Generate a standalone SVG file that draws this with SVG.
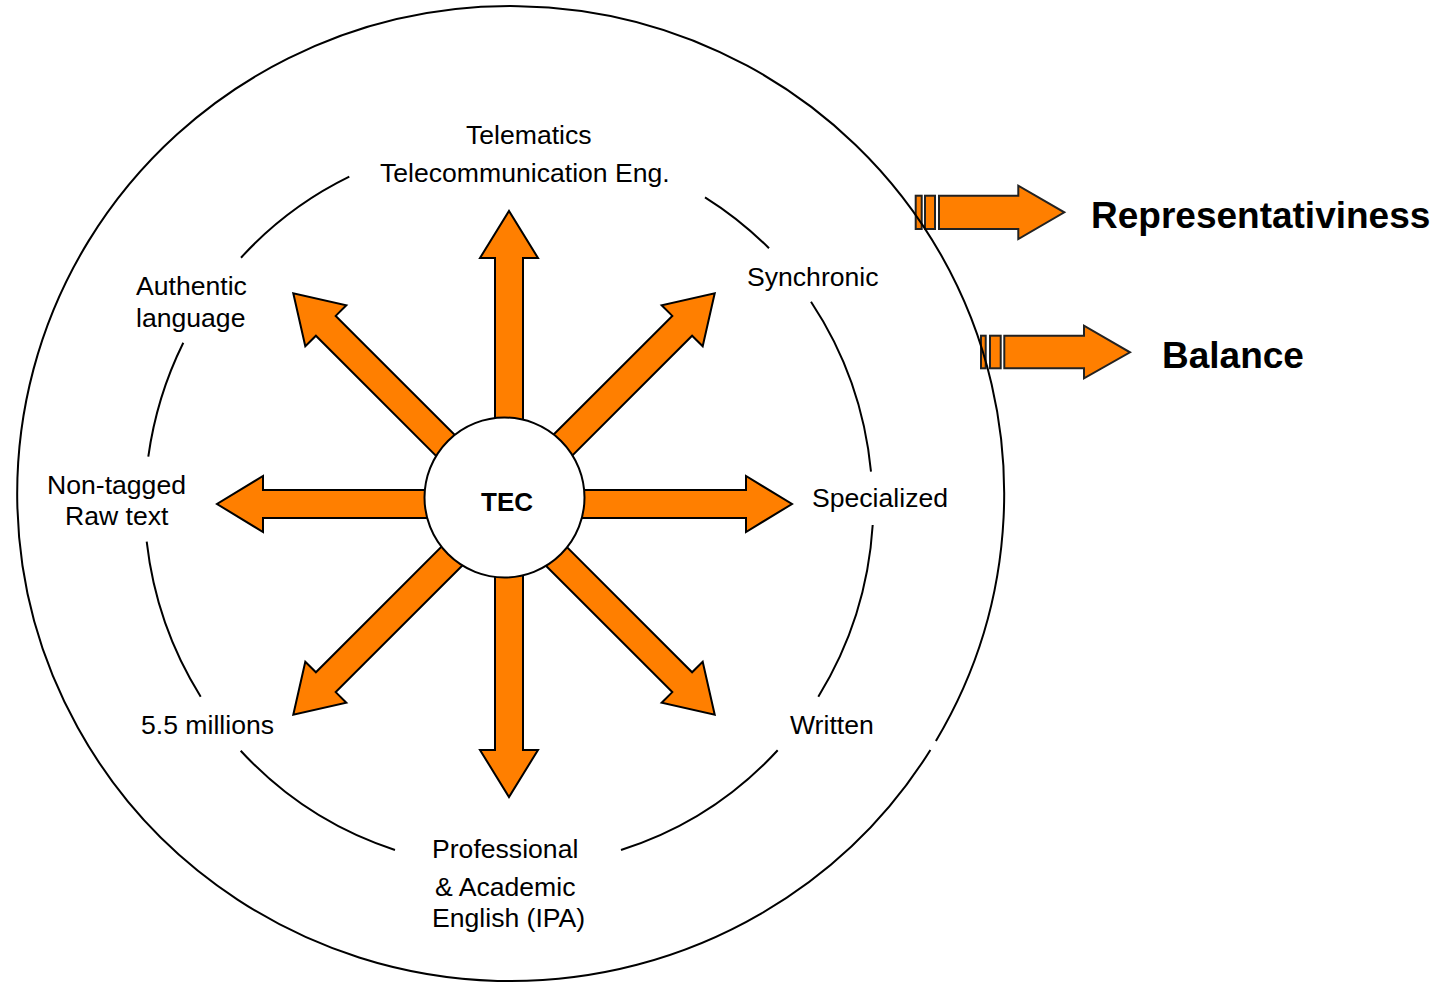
<svg xmlns="http://www.w3.org/2000/svg" width="1439" height="984" viewBox="0 0 1439 984">
<style>
.lbl{font-family:"Liberation Sans",Arial,sans-serif;font-size:26.6px;fill:#000}
.big{font-family:"Liberation Sans",Arial,sans-serif;font-size:37px;font-weight:bold;fill:#000}
.arr{fill:#FF7F00;stroke:#000;stroke-width:2;stroke-linejoin:miter}
.sarr{fill:#FF7F00;stroke:#222;stroke-width:2}
.ring{fill:none;stroke:#000;stroke-width:2}
</style>
<defs>
<polygon id="radial" points="40,-14 252,-14 252,-29 298,0 252,29 252,14 40,14"/>
</defs>
<rect width="1439" height="984" fill="#fff"/>

<g id="side-arrows">
<g id="arrow-representativiness">
<rect class="sarr" x="915.7" y="195.7" width="6" height="33.3"/>
<rect class="sarr" x="925" y="195.7" width="10" height="33.3"/>
<polygon class="sarr" points="939,195.7 1018.3,195.7 1018.3,185.7 1064.3,212.3 1018.3,239 1018.3,229 939,229"/>
</g>
<g id="arrow-balance">
<rect class="sarr" x="981" y="335.7" width="4.7" height="32.6"/>
<rect class="sarr" x="990" y="335.7" width="10.7" height="32.6"/>
<polygon class="sarr" points="1004.3,335.7 1084,335.7 1084,325.7 1130,352.3 1084,378.3 1084,368.3 1004.3,368.3"/>
</g>
</g>

<g id="outer-circle">
<path class="ring" d="M 930.4 750 A 493.5 487.5 0 1 1 935.9 741"/>
</g>

<g id="inner-ring">
<path class="ring" d="M 705 197.3 A 362.5 368 0 0 1 769 248.3"/>
<path class="ring" d="M 811 301.7 A 362.5 368 0 0 1 871 471.7"/>
<path class="ring" d="M 872.7 525 A 362.5 368 0 0 1 818.3 696.7"/>
<path class="ring" d="M 777.7 750.3 A 362.5 368 0 0 1 621 850"/>
<path class="ring" d="M 395 850 A 362.5 368 0 0 1 240.7 750.7"/>
<path class="ring" d="M 200.7 696.7 A 362.5 368 0 0 1 146.7 541.7"/>
<path class="ring" d="M 148.3 456.7 A 362.5 368 0 0 1 183.3 342.7"/>
<path class="ring" d="M 241 257.7 A 362.5 368 0 0 1 349.3 176.7"/>
</g>

<g id="connectors">
<polygon class="arr" points="495,440 495,258 480,258 509,211 538,258 523,258 523,440"/>
<polygon class="arr" points="495,560 495,750 480,750 509,797 538,750 523,750 523,560"/>
<polygon class="arr" points="440,490 263,490 263,476 217,504 263,532 263,518 440,518"/>
<polygon class="arr" points="570,490 746,490 746,476 792,504 746,532 746,518 570,518"/>
<use href="#radial" class="arr" transform="translate(504,504) rotate(-135)"/>
<use href="#radial" class="arr" transform="translate(504,504) rotate(-45)"/>
<use href="#radial" class="arr" transform="translate(504,504) rotate(45)"/>
<use href="#radial" class="arr" transform="translate(504,504) rotate(135)"/>
</g>

<g id="node-tec">
<circle cx="504.5" cy="497.5" r="80" fill="#fff" stroke="#000" stroke-width="2"/>
<text x="507" y="511" text-anchor="middle" font-family="Liberation Sans, Arial, sans-serif" font-size="26" font-weight="bold">TEC</text>
</g>

<g id="label-telematics"><text class="lbl" x="466" y="144">Telematics</text><text class="lbl" x="380" y="182">Telecommunication Eng.</text></g>
<g id="label-synchronic"><text class="lbl" x="747" y="286">Synchronic</text></g>
<g id="label-authentic"><text class="lbl" x="136" y="295">Authentic</text><text class="lbl" x="136" y="327">language</text></g>
<g id="label-nontagged"><text class="lbl" x="47" y="494">Non-tagged</text><text class="lbl" x="65" y="525">Raw text</text></g>
<g id="label-specialized"><text class="lbl" x="812" y="507">Specialized</text></g>
<g id="label-written"><text class="lbl" x="790" y="734">Written</text></g>
<g id="label-millions"><text class="lbl" x="141" y="734">5.5 millions</text></g>
<g id="label-professional"><text class="lbl" x="432" y="858">Professional</text><text class="lbl" x="435" y="896">&amp; Academic</text><text class="lbl" x="432" y="927">English (IPA)</text></g>
<g id="label-representativiness"><text class="big" x="1091" y="228">Representativiness</text></g>
<g id="label-balance"><text class="big" x="1162" y="368">Balance</text></g>
</svg>
